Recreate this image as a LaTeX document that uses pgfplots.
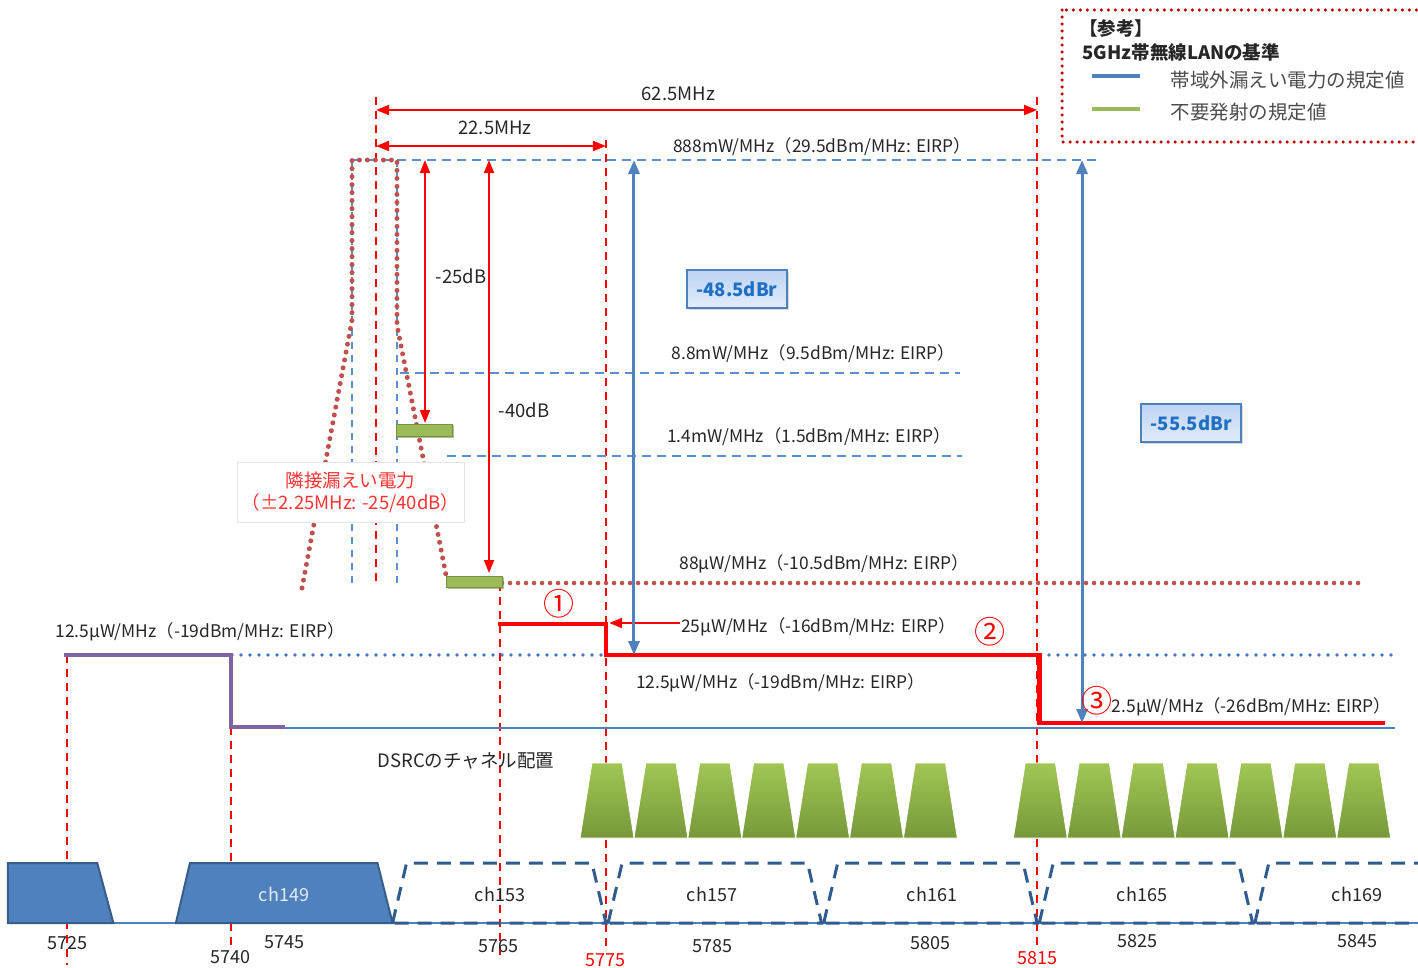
\documentclass[border=0pt]{standalone}
\usepackage{fontspec}
\setmainfont{Noto Sans CJK JP}
\usepackage{pgfplots}
\pgfplotsset{compat=1.18}
\usetikzlibrary{arrows.meta,shadows}
\definecolor{rd}{HTML}{FF0000}
\definecolor{mask}{HTML}{C0504D}
\definecolor{lb}{HTML}{5B8FD0}
\definecolor{bl}{HTML}{4F81BD}
\definecolor{dotb}{HTML}{4472C4}
\definecolor{pur}{HTML}{8064A2}
\definecolor{grn}{HTML}{9BBB59}
\definecolor{dgrn}{HTML}{77933C}
\definecolor{gtop}{HTML}{A2C655}
\definecolor{gbot}{HTML}{77983A}
\definecolor{wlanb}{HTML}{385D8A}
\definecolor{dashc}{HTML}{2F5B8F}
\definecolor{legred}{HTML}{C00000}
\definecolor{boxtop}{HTML}{BDD3F3}
\definecolor{boxbot}{HTML}{E3EDFB}
\definecolor{boxtext}{HTML}{1F6FC5}
\definecolor{txt}{HTML}{262626}
\begin{document}
\begin{tikzpicture}[font=\fontsize{18}{22}\selectfont, text=txt]
\begin{axis}[width=1418pt,height=967pt,scale only axis,
  xmin=5718.78,xmax=5850.34,ymin=0,ymax=967,y dir=reverse,
  hide axis,clip=false,no marks]
% ---- red dashed vertical guides
\addplot[rd, line width=2pt, dash pattern=on 8pt off 6pt] coordinates {(5725,655) (5725,965)};
\addplot[rd, line width=2pt, dash pattern=on 8pt off 6pt] coordinates {(5740.2,727) (5740.2,945)};
\addplot[rd, line width=2pt, dash pattern=on 8pt off 6pt] coordinates {(5753.67,97) (5753.67,585)};
\addplot[rd, line width=2pt, dash pattern=on 8pt off 6pt] coordinates {(5765.2,583) (5765.2,955)};
\addplot[rd, line width=2pt, dash pattern=on 8pt off 6pt] coordinates {(5775,140) (5775,950)};
\addplot[rd, line width=2pt, dash pattern=on 8pt off 6pt] coordinates {(5815,97) (5815,948)};
% ---- light blue dashed guides
\addplot[lb, line width=1.8pt, dash pattern=on 9pt off 6pt] coordinates {(5751.44,160) (5820.84,160)};
\addplot[lb, line width=1.8pt, dash pattern=on 9pt off 6pt] coordinates {(5755.9,373) (5807.85,373)};
\addplot[lb, line width=1.8pt, dash pattern=on 9pt off 6pt] coordinates {(5760.25,456) (5808.04,456)};
\addplot[lb, line width=1.8pt, dash pattern=on 7pt off 6pt] coordinates {(5751.44,160) (5751.44,585)};
\addplot[lb, line width=1.8pt, dash pattern=on 7pt off 6pt] coordinates {(5755.61,160) (5755.61,583)};
% ---- transmit mask (dotted)
\addplot[mask, line width=5pt, line cap=round, dash pattern=on 0pt off 8pt] coordinates {(5746.8,588) (5751.44,320) (5751.44,160) (5755.61,160) (5755.61,325) (5760.25,580)};
\addplot[mask, line width=4.5pt, line cap=round, dash pattern=on 0pt off 8pt] coordinates {(5765.36,583) (5844.96,583)};
% ---- blue dotted -19 dBm level
\addplot[dotb, line width=3.8pt, line cap=round, dash pattern=on 0pt off 9pt] coordinates {(5740.3,655) (5775,655)};
\addplot[dotb, line width=3.8pt, line cap=round, dash pattern=on 0pt off 9pt] coordinates {(5815.27,655) (5848.2,655)};
% ---- blue solid baseline (-26 dBm)
\addplot[bl, line width=2.5pt] coordinates {(5745.2,728) (5848.2,728)};
% ---- purple limit
\addplot[pur, line width=4.5pt] coordinates {(5724.7,655) (5740.2,655) (5740.2,727) (5745.2,727)};
% ---- red DSRC limit steps
\addplot[rd, line width=4.5pt] coordinates {(5765,624) (5775,624) (5775,655) (5815.2,655) (5815.2,723) (5847.3,723)};
% ---- arrows
\draw[rd, line width=2pt, {Triangle[length=13pt,width=10pt]}-{Triangle[length=13pt,width=10pt]}] (axis cs:5753.67,110) -- (axis cs:5815,110);
\draw[rd, line width=2pt, {Triangle[length=13pt,width=10pt]}-{Triangle[length=13pt,width=10pt]}] (axis cs:5753.67,146) -- (axis cs:5775,146);
\draw[rd, line width=2pt, {Triangle[length=13pt,width=10pt]}-{Triangle[length=13pt,width=10pt]}] (axis cs:5758.21,160) -- (axis cs:5758.21,423);
\draw[rd, line width=2pt, {Triangle[length=13pt,width=10pt]}-{Triangle[length=13pt,width=10pt]}] (axis cs:5764.15,160) -- (axis cs:5764.15,573);
\draw[rd, line width=2pt, -{Triangle[length=13pt,width=10pt]}] (axis cs:5781.87,623) -- (axis cs:5775.3,623);
\draw[bl, line width=3pt, {Triangle[length=14pt,width=11pt]}-{Triangle[length=14pt,width=11pt]}] (axis cs:5777.6,160) -- (axis cs:5777.6,655);
\draw[bl, line width=3pt, {Triangle[length=14pt,width=11pt]}-{Triangle[length=14pt,width=11pt]}] (axis cs:5819.17,160) -- (axis cs:5819.17,723);
% ---- adjacent leakage bars
\addplot[fill=grn, draw=dgrn, line width=1pt, drop shadow={opacity=0.35, shadow xshift=1.5pt, shadow yshift=-1.5pt}] coordinates {(5755.52,424) (5760.72,424) (5760.72,436) (5755.52,436)} --cycle;
\addplot[fill=grn, draw=dgrn, line width=1pt, drop shadow={opacity=0.35, shadow xshift=1.5pt, shadow yshift=-1.5pt}] coordinates {(5760.25,576) (5765.36,576) (5765.36,587) (5760.25,587)} --cycle;
% ---- DSRC channels
\addplot[top color=gtop, bottom color=gbot, draw=white, line width=0.8pt] coordinates {(5772.6,838) (5773.7,763) (5776.5,763) (5777.6,838)} --cycle;
\addplot[top color=gtop, bottom color=gbot, draw=white, line width=0.8pt] coordinates {(5777.6,838) (5778.7,763) (5781.5,763) (5782.6,838)} --cycle;
\addplot[top color=gtop, bottom color=gbot, draw=white, line width=0.8pt] coordinates {(5782.6,838) (5783.7,763) (5786.5,763) (5787.6,838)} --cycle;
\addplot[top color=gtop, bottom color=gbot, draw=white, line width=0.8pt] coordinates {(5787.6,838) (5788.7,763) (5791.5,763) (5792.6,838)} --cycle;
\addplot[top color=gtop, bottom color=gbot, draw=white, line width=0.8pt] coordinates {(5792.6,838) (5793.7,763) (5796.5,763) (5797.6,838)} --cycle;
\addplot[top color=gtop, bottom color=gbot, draw=white, line width=0.8pt] coordinates {(5797.6,838) (5798.7,763) (5801.5,763) (5802.6,838)} --cycle;
\addplot[top color=gtop, bottom color=gbot, draw=white, line width=0.8pt] coordinates {(5802.6,838) (5803.7,763) (5806.5,763) (5807.6,838)} --cycle;
\addplot[top color=gtop, bottom color=gbot, draw=white, line width=0.8pt] coordinates {(5812.8,838) (5813.9,763) (5816.7,763) (5817.8,838)} --cycle;
\addplot[top color=gtop, bottom color=gbot, draw=white, line width=0.8pt] coordinates {(5817.8,838) (5818.9,763) (5821.7,763) (5822.8,838)} --cycle;
\addplot[top color=gtop, bottom color=gbot, draw=white, line width=0.8pt] coordinates {(5822.8,838) (5823.9,763) (5826.7,763) (5827.8,838)} --cycle;
\addplot[top color=gtop, bottom color=gbot, draw=white, line width=0.8pt] coordinates {(5827.8,838) (5828.9,763) (5831.7,763) (5832.8,838)} --cycle;
\addplot[top color=gtop, bottom color=gbot, draw=white, line width=0.8pt] coordinates {(5832.8,838) (5833.9,763) (5836.7,763) (5837.8,838)} --cycle;
\addplot[top color=gtop, bottom color=gbot, draw=white, line width=0.8pt] coordinates {(5837.8,838) (5838.9,763) (5841.7,763) (5842.8,838)} --cycle;
\addplot[top color=gtop, bottom color=gbot, draw=white, line width=0.8pt] coordinates {(5842.8,838) (5843.9,763) (5846.7,763) (5847.8,838)} --cycle;
% ---- WLAN channels
\addplot[bl, line width=2pt] coordinates {(5729.3,923) (5850.34,923)};
\addplot[fill=bl, draw=wlanb, line width=2pt] coordinates {(5719.5,923) (5719.5,863) (5727.8,863) (5729.3,923)} --cycle;
\addplot[fill=bl, draw=wlanb, line width=2pt] coordinates {(5735.1,923) (5736.4,863) (5753.8,863) (5755.2,923)} --cycle;
\addplot[dashc, line width=3pt, dash pattern=on 14pt off 9pt] coordinates {(5755.2,923) (5756.5,863) (5773.7,863) (5775,923)} --cycle;
\addplot[dashc, line width=3pt, dash pattern=on 14pt off 9pt] coordinates {(5775.2,923) (5776.5,863) (5793.7,863) (5795,923)} --cycle;
\addplot[dashc, line width=3pt, dash pattern=on 14pt off 9pt] coordinates {(5795.2,923) (5796.5,863) (5813.7,863) (5815,923)} --cycle;
\addplot[dashc, line width=3pt, dash pattern=on 14pt off 9pt] coordinates {(5815.2,923) (5816.5,863) (5833.7,863) (5835,923)} --cycle;
\addplot[dashc, line width=3pt, dash pattern=on 14pt off 9pt] coordinates {(5835.2,923) (5836.5,863) (5853.7,863) (5855,923)} --cycle;
% ---- channel names
\node[text=white!85!bl] at (axis cs:5745.13,894) {ch149};
\node at (axis cs:5765.17,894) {ch153};
\node at (axis cs:5784.84,894) {ch157};
\node at (axis cs:5805.25,894) {ch161};
\node at (axis cs:5824.73,894) {ch165};
\node at (axis cs:5844.68,894) {ch169};
% ---- frequency labels
\node at (axis cs:5725,943) {5725};
\node at (axis cs:5740.2,957) {5740};
\node at (axis cs:5745.13,942) {5745};
\node at (axis cs:5765,946) {5765};
\node[text=rd] at (axis cs:5775,960) {5775};
\node at (axis cs:5784.84,946) {5785};
\node at (axis cs:5805.07,943) {5805};
\node[text=rd] at (axis cs:5815,958) {5815};
\node at (axis cs:5824.27,941) {5825};
\node at (axis cs:5844.68,941) {5845};
% ---- level labels
\node[font=\fontsize{18.5}{22}\selectfont] at (axis cs:5781.7,94) {62.5MHz};
\node[font=\fontsize{18.5}{22}\selectfont] at (axis cs:5764.7,128) {22.5MHz};
\begin{scope}[every node/.style={font=\fontsize{17.4}{21}\selectfont}]
\node at (axis cs:5795.05,147) {888mW/MHz（29.5dBm/MHz: EIRP）};
\node at (axis cs:5794.26,354) {8.8mW/MHz（9.5dBm/MHz: EIRP）};
\node at (axis cs:5793.84,437) {1.4mW/MHz（1.5dBm/MHz: EIRP）};
\node at (axis cs:5795.23,564) {88µW/MHz（-10.5dBm/MHz: EIRP）};
\node at (axis cs:5794.72,627) {25µW/MHz（-16dBm/MHz: EIRP）};
\node at (axis cs:5791.2,683) {12.5µW/MHz（-19dBm/MHz: EIRP）};
\node at (axis cs:5737.34,632) {12.5µW/MHz（-19dBm/MHz: EIRP）};
\node at (axis cs:5834.9,707) {2.5µW/MHz（-26dBm/MHz: EIRP）};
\end{scope}
\node[font=\fontsize{18.5}{22}\selectfont] at (axis cs:5761.55,276) {-25dB};
\node[font=\fontsize{18.5}{22}\selectfont] at (axis cs:5767.4,410) {-40dB};
\node[font=\fontsize{18.5}{22}\selectfont] at (axis cs:5762.0,761) {DSRCのチャネル配置};
\node[text=rd, font=\fontsize{31}{34}\selectfont] at (axis cs:5770.65,604) {①};
\node[text=rd, font=\fontsize{31}{34}\selectfont] at (axis cs:5810.6,632) {②};
\node[text=rd, font=\fontsize{31}{34}\selectfont] at (axis cs:5820.56,701) {③};
% ---- boxes
\node[draw=black!10, fill=white, text=red!80!white, align=center, minimum width=227pt, minimum height=60pt, inner sep=1pt, font=\fontsize{18.5}{22}\selectfont] at (axis cs:5751.3,492) {隣接漏えい電力\\（±2.25MHz: -25/40dB）};
\node[draw=bl, line width=1.5pt, top color=boxtop, bottom color=boxbot, text=boxtext, font=\fontsize{18.5}{22}\selectfont\bfseries, minimum width=100pt, minimum height=38pt, inner sep=0pt, drop shadow={opacity=0.3, shadow xshift=2pt, shadow yshift=-2pt}] at (axis cs:5787.16,289) {-48.5dBr};
\node[draw=bl, line width=1.5pt, top color=boxtop, bottom color=boxbot, text=boxtext, font=\fontsize{18.5}{22}\selectfont\bfseries, minimum width=100pt, minimum height=38pt, inner sep=0pt, drop shadow={opacity=0.3, shadow xshift=2pt, shadow yshift=-2pt}] at (axis cs:5829.3,423) {-55.5dBr};
% ---- legend
\draw[legred, line width=3.5pt, line cap=round, dash pattern=on 0pt off 7pt] (axis cs:5817.31,10) rectangle (axis cs:5853,142);
\node[anchor=west, font=\fontsize{18.5}{22}\selectfont\bfseries] at (axis cs:5818.6,28) {【参考】};
\node[anchor=west, font=\fontsize{18.5}{22}\selectfont\bfseries] at (axis cs:5818.9,52) {5GHz帯無線LANの基準};
\draw[bl, line width=3.5pt] (axis cs:5820.1,76) -- (axis cs:5824.55,76);
\draw[grn, line width=3.5pt] (axis cs:5820.1,109) -- (axis cs:5824.55,109);
\node[anchor=west, text=black!70, font=\fontsize{19.5}{22}\selectfont] at (axis cs:5827.05,80) {帯域外漏えい電力の規定値};
\node[anchor=west, text=black!70, font=\fontsize{19.5}{22}\selectfont] at (axis cs:5827.05,112) {不要発射の規定値};
\end{axis}
\pgfresetboundingbox
\path[use as bounding box] (0,0) rectangle (1418pt,967pt);
\end{tikzpicture}
\end{document}
